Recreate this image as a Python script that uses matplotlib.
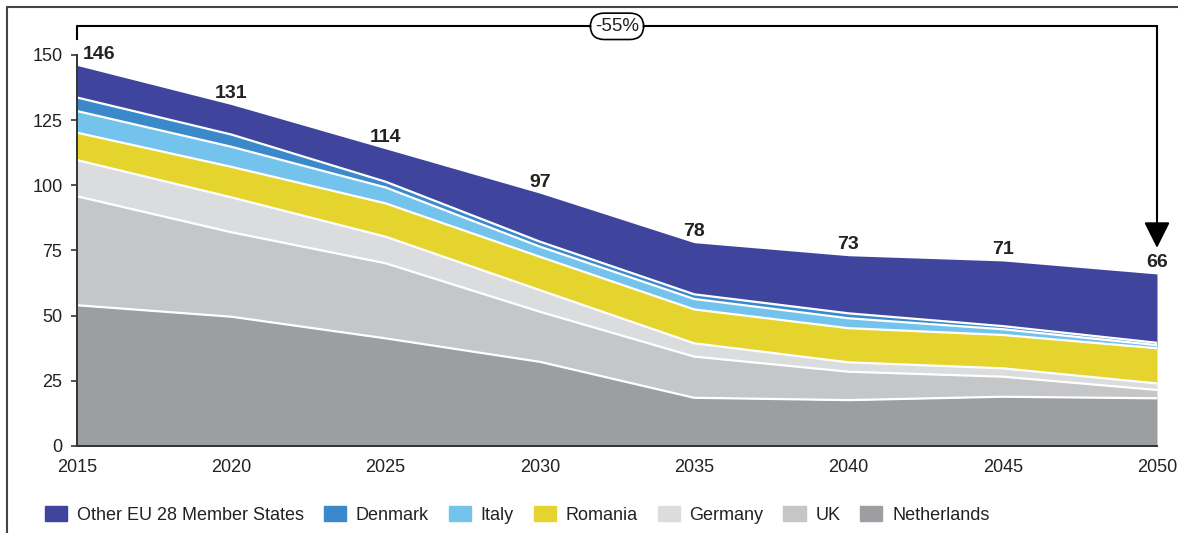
import numpy as np
import matplotlib
matplotlib.use("Agg")
import matplotlib.pyplot as plt
from matplotlib.lines import Line2D

plt.rcParams['font.family'] = ['Liberation Sans', 'DejaVu Sans']

# data (stacked from bottom to top)
years = [2015, 2020, 2025, 2030, 2035, 2040, 2045, 2050]
netherlands = [54.0, 49.6, 41.3, 32.3, 18.5, 17.6, 18.9, 18.3]
uk = [41.8, 32.4, 28.8, 19.2, 15.8, 10.9, 7.7, 3.2]
germany = [13.9, 13.4, 10.2, 8.3, 5.1, 3.6, 3.2, 2.5]
romania = [10.5, 11.7, 12.8, 12.8, 13.0, 13.1, 12.8, 13.5]
italy = [8.3, 7.7, 6.1, 3.9, 4.0, 3.8, 2.2, 1.2]
denmark = [5.2, 4.7, 2.2, 1.9, 1.8, 1.9, 1.2, 0.9]
totals = [146, 131, 114, 97, 78, 73, 71, 66]

names = ["Netherlands", "UK", "Germany", "Romania", "Italy", "Denmark",
         "Other EU 28 Member States"]
colors = ["#9d9ea2", "#c5c6c8", "#dbdcde", "#e6d42e", "#74c3ed", "#3a89cb",
          "#3f459d"]

# "other" is whatever remains up to the stated total
other = [t - (a + b + c + d + e + f) for t, a, b, c, d, e, f in
         zip(totals, netherlands, uk, germany, romania, italy, denmark)]
layers = [netherlands, uk, germany, romania, italy, denmark, other]

fig = plt.figure(figsize=(11.78, 5.33), dpi=100)
ax = fig.add_axes([77 / 1178, 1 - 446 / 533, 1080 / 1178, 391 / 533])

x = np.array(years)
base = np.zeros(len(years))
handles = []
for vals, name, col in zip(layers, names, colors):
    top = base + np.array(vals)
    ax.fill_between(x, base, top, color=col, lw=0, zorder=1)
    handles.append(plt.Rectangle((0, 0), 1, 1, color=col, label=name))
    base = top
# white separators between layers
base = np.zeros(len(years))
for vals in layers[:-1]:
    base = base + np.array(vals)
    ax.plot(x, base, color="white", lw=1.6, zorder=2)

# totals above the stack
for i, (yr, t) in enumerate(zip(years, totals)):
    if i == 0:
        ax.annotate(str(t), (yr, t), xytext=(4, 8), textcoords="offset points",
                    ha="left", va="center", fontsize=14, fontweight="bold",
                    color="#222222", annotation_clip=False)
    else:
        ax.annotate(str(t), (yr, t), xytext=(0, 8), textcoords="offset points",
                    ha="center", va="center", fontsize=14, fontweight="bold",
                    color="#222222", annotation_clip=False)

# change bracket 2015 -> 2050
change = round((totals[-1] - totals[0]) / totals[0] * 100)
top_y = max(totals) + 15
ax.plot([years[0], years[0], years[-1]], [totals[0] + 10, top_y, top_y],
        color="black", lw=1.5, clip_on=False, zorder=5)
ax.annotate("", xy=(years[-1], totals[-1] + 10), xytext=(years[-1], top_y),
            arrowprops=dict(arrowstyle="-|>", mutation_scale=40, lw=1.5,
                            color="black", shrinkA=0, shrinkB=0),
            annotation_clip=False, zorder=5)
ax.text((years[0] + years[-1]) / 2, top_y, f"{change}%", ha="center",
        va="center", fontsize=13.5, color="#222222", zorder=6,
        bbox=dict(boxstyle="round,pad=0.25,rounding_size=0.75",
                  fc="white", ec="black", lw=1.2), clip_on=False)

ax.set_xlim(2015, 2050)
ax.set_ylim(0, 150)
ax.set_xticks(years)
ax.set_yticks([0, 25, 50, 75, 100, 125, 150])
for s in ["top", "right"]:
    ax.spines[s].set_visible(False)
for s in ["left", "bottom"]:
    ax.spines[s].set_color("#333333")
    ax.spines[s].set_linewidth(1.4)
    ax.spines[s].set_zorder(3)
ax.tick_params(axis="y", length=4, width=1.2, color="#333333", pad=6.5,
               labelsize=13, labelcolor="#222222")
ax.tick_params(axis="x", length=0, pad=9, labelsize=13, labelcolor="#222222")

fig.legend(handles=handles[::-1], loc="center left",
           bbox_to_anchor=(45 / 1178, 1 - 515 / 533), ncol=7, frameon=False,
           fontsize=13, handlelength=1.22, handleheight=0.85,
           handletextpad=0.55, columnspacing=1.1, borderpad=0,
           borderaxespad=0, labelcolor="#222222")

# outer frame (left and top edges)
fig.add_artist(Line2D([7 / 1178, 7 / 1178, 1.0], [0.0, 1 - 7 / 533, 1 - 7 / 533],
                      transform=fig.transFigure, color="#444444", lw=1.5))

fig.savefig("out.png", dpi=100)
